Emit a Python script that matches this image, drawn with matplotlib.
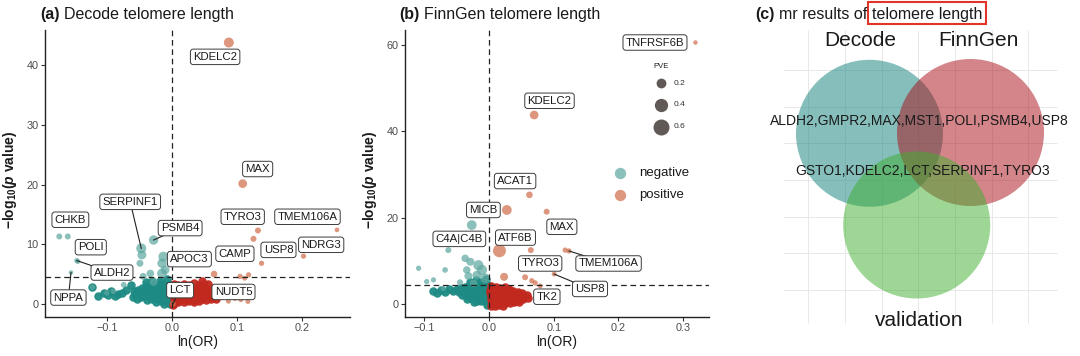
import numpy as np
import matplotlib
matplotlib.use('Agg')
import matplotlib.pyplot as plt
from matplotlib.patches import Circle, Rectangle

plt.rcParams['font.family'] = ['Liberation Sans', 'DejaVu Sans']
plt.rcParams['mathtext.fontset'] = 'custom'
plt.rcParams['mathtext.rm'] = 'Liberation Sans'
plt.rcParams['mathtext.it'] = 'Liberation Sans:italic'
plt.rcParams['mathtext.bf'] = 'Liberation Sans:bold'
plt.rcParams['mathtext.bfit'] = 'Liberation Sans:italic:bold'

W, H, DPI = 1080, 356, 100

# ---------------- data: (a) Decode ----------------
# dense non-significant cloud
a_cloud_neg_x = [-0.122, -0.113, -0.105, -0.098, -0.094, -0.088, -0.083, -0.077, -0.070, -0.063,
                 -0.058, -0.052, -0.046, -0.040, -0.034, -0.028, -0.022, -0.016, -0.010, -0.004,
                 -0.056, -0.050, -0.044, -0.038, -0.032, -0.026, -0.020, -0.014, -0.008, -0.002,
                 -0.048, -0.042, -0.036, -0.030, -0.024, -0.018, -0.012, -0.006, -0.001,
                 -0.038, -0.030, -0.022, -0.015, -0.009, -0.003,
                 -0.024, -0.016, -0.010, -0.005, -0.001,
                 -0.040, -0.030, -0.018, -0.008, -0.003, -0.012, -0.060, -0.054]
a_cloud_neg_y = [2.8, 1.4, 1.8, 1.5, 2.2, 1.3, 1.7, 1.9, 2.3, 3.1,
                 2.2, 2.4, 2.7, 3.0, 2.9, 3.2, 3.0, 3.3, 3.1, 3.4,
                 1.6, 1.8, 2.0, 2.1, 2.3, 2.2, 2.4, 2.5, 2.6, 2.7,
                 1.1, 1.3, 1.4, 1.5, 1.6, 1.7, 1.8, 1.9, 2.0,
                 0.7, 0.8, 0.9, 1.0, 1.1, 1.2,
                 0.3, 0.4, 0.5, 0.4, 0.6,
                 3.6, 3.9, 3.8, 4.1, 0.0, 0.0, 1.2, 0.8]
a_cloud_pos_x = [0.003, 0.010, 0.018, 0.026, 0.034, 0.042, 0.050,
                 0.002, 0.009, 0.016, 0.023, 0.030, 0.037, 0.044, 0.051, 0.057,
                 0.002, 0.009, 0.016, 0.023, 0.030, 0.037, 0.044, 0.051, 0.058, 0.064,
                 0.003, 0.010, 0.017, 0.024, 0.031, 0.038, 0.045, 0.052, 0.059, 0.066,
                 0.004, 0.011, 0.018, 0.025, 0.032, 0.039, 0.046, 0.053, 0.060, 0.068,
                 0.003, 0.010, 0.018, 0.026, 0.034, 0.042,
                 0.046, 0.055, 0.002]
a_cloud_pos_y = [3.3, 3.2, 3.4, 3.1, 3.5, 3.2, 3.3,
                 2.7, 2.6, 2.8, 2.6, 2.7, 2.5, 2.8, 2.6, 2.4,
                 2.0, 2.1, 1.9, 2.0, 2.2, 2.0, 1.9, 2.1, 2.0, 1.8,
                 1.4, 1.5, 1.3, 1.4, 1.5, 1.3, 1.4, 1.5, 1.3, 1.2,
                 0.8, 0.7, 0.9, 0.8, 0.7, 0.9, 0.8, 0.7, 0.8, 0.9,
                 0.2, 0.3, 0.3, 0.4, 0.3, 0.4,
                 3.9, 3.3, -0.2]

# highlighted proteins: gene, ln(OR), -log10(p), PVE
a_neg_gene = ['SERPINF1', '', 'PSMB4', 'APOC3', '', '', '', '', '', '', '', '', '', '',
              'CHKB', '', 'ALDH2', 'POLI', 'NPPA', '']
a_neg_lnor = [-0.047, -0.046, -0.028, -0.013, -0.015, -0.0103, -0.015, -0.049, -0.033, -0.044,
              -0.028, -0.074, -0.090, -0.100, -0.173, -0.160, -0.146, -0.1445, -0.155, -0.122]
a_neg_logp = [9.3, 8.2, 10.7, 7.9, 6.8, 5.7, 5.1, 6.8, 5.1, 4.6,
              3.7, 3.2, 2.1, 1.8, 11.3, 11.3, 7.25, 7.1, 5.25, 2.8]
a_neg_pve = [0.21, 0.16, 0.18, 0.21, 0.18, 0.15, 0.20, 0.08, 0.10, 0.08,
             0.12, 0.04, 0.03, 0.03, 0.05, 0.05, 0.03, 0.02, 0.01, 0.03]

a_pos_gene = ['KDELC2', 'MAX', 'TYRO3', '', 'TMEM106A', 'NDRG3', 'USP8', 'CAMP', '', '', '',
              'NUDT5', '', '', '', 'LCT']
a_pos_lnor = [0.0877, 0.109, 0.1325, 0.1256, 0.254, 0.2025, 0.138, 0.065, 0.118, 0.105, 0.112,
              0.087, 0.097, 0.106, 0.117, 0.0015]
a_pos_logp = [43.8, 20.15, 12.3, 10.9, 12.4, 8.0, 6.8, 5.0, 4.86, 4.6, 4.3,
              0.45, 0.9, 0.7, 0.4, 0.0]
a_pos_pve = [0.21, 0.15, 0.05, 0.05, 0.015, 0.03, 0.03, 0.07, 0.03, 0.03, 0.02,
             0.02, 0.02, 0.02, 0.02, 0.05]

# ---------------- data: (b) FinnGen ----------------
b_cloud_neg_x = [-0.087, -0.080, -0.074, -0.068, -0.062, -0.056,
                 -0.050, -0.044, -0.038, -0.032, -0.026, -0.020, -0.014, -0.008, -0.002,
                 -0.046, -0.040, -0.034, -0.028, -0.022, -0.016, -0.010, -0.004,
                 -0.042, -0.036, -0.030, -0.024, -0.018, -0.012, -0.006, -0.001,
                 -0.034, -0.028, -0.022, -0.016, -0.010, -0.004,
                 -0.024, -0.018, -0.012, -0.006, -0.002,
                 -0.030, -0.020, -0.012, -0.005, -0.003]
b_cloud_neg_y = [3.0, 2.6, 3.2, 2.8, 3.4, 3.0,
                 3.6, 3.8, 4.0, 3.9, 4.2, 4.0, 4.3, 4.1, 4.4,
                 2.8, 3.0, 3.1, 3.2, 3.0, 3.3, 3.2, 3.4,
                 2.0, 2.2, 2.3, 2.1, 2.4, 2.3, 2.5, 2.6,
                 1.2, 1.3, 1.5, 1.4, 1.6, 1.7,
                 0.5, 0.6, 0.7, 0.8, 0.9,
                 5.0, 5.5, 5.2, 5.8, -0.3]
b_cloud_pos_x = [0.003, 0.010, 0.017, 0.024, 0.031,
                 0.002, 0.009, 0.016, 0.023, 0.030, 0.037, 0.044,
                 0.002, 0.009, 0.016, 0.023, 0.030, 0.037, 0.044, 0.051,
                 0.003, 0.010, 0.017, 0.024, 0.031, 0.038, 0.045, 0.052, 0.059,
                 0.003, 0.010, 0.017, 0.024, 0.031, 0.038, 0.045, 0.052, 0.060,
                 0.004, 0.011, 0.018, 0.025, 0.032, 0.039, 0.046,
                 0.003, 0.009, 0.016, 0.022]
b_cloud_pos_y = [4.2, 4.0, 3.8, 3.9, 3.6,
                 3.3, 3.4, 3.2, 3.1, 3.3, 3.0, 2.9,
                 2.5, 2.6, 2.4, 2.5, 2.6, 2.4, 2.3, 2.5,
                 1.7, 1.8, 1.6, 1.7, 1.8, 1.6, 1.7, 1.8, 2.0,
                 0.9, 1.0, 0.8, 0.9, 1.0, 0.8, 0.9, 1.1, 1.3,
                 0.2, 0.1, 0.3, 0.2, 0.3, 0.4, 0.5,
                 -0.5, -0.4, -0.3, -0.4]

b_neg_gene = ['', 'C4A|C4B', '', '', '', '', '', '', '', '', '', '', '', '', '', '', '']
b_neg_lnor = [-0.0268, -0.063, -0.037, -0.029, -0.0166, -0.011, -0.0345, -0.068, -0.109,
              -0.019, -0.006, -0.086, -0.0965, -0.0707, -0.032, -0.045, -0.024]
b_neg_logp = [18.3, 12.5, 10.6, 9.8, 9.0, 7.9, 7.9, 7.9, 8.3,
              6.7, 5.95, 5.6, 5.2, 3.6, 6.5, 5.0, 4.8]
b_neg_pve = [0.20, 0.05, 0.10, 0.12, 0.22, 0.22, 0.10, 0.04, 0.03,
             0.15, 0.20, 0.03, 0.03, 0.03, 0.12, 0.06, 0.10]

b_pos_gene = ['TNFRSF6B', 'KDELC2', 'ACAT1', 'MICB', 'MAX', 'ATF6B', '', 'TMEM106A', '',
              'USP8', 'TYRO3', '', '', '', 'TK2']
b_pos_lnor = [0.319, 0.0697, 0.0624, 0.0274, 0.089, 0.016, 0.0645, 0.1235, 0.1176,
              0.1006, 0.0557, 0.0232, 0.066, 0.0712, 0.079]
b_pos_logp = [60.6, 43.8, 25.3, 21.8, 21.4, 12.35, 12.5, 12.3, 12.5,
              6.95, 6.2, 6.3, 5.4, 4.9, 4.2]
b_pos_pve = [0.01, 0.15, 0.07, 0.20, 0.05, 0.38, 0.05, 0.03, 0.03,
             0.02, 0.05, 0.12, 0.03, 0.03, 0.02]

threshold = 4.5
pve_legend = [0.2, 0.4, 0.6]
direction_legend = ['negative', 'positive']

# ---------------- data: (c) Venn ----------------
venn_sets = ['Decode', 'FinnGen', 'validation']
decode_finngen_only = ['ALDH2', 'GMPR2', 'MAX', 'MST1', 'POLI', 'PSMB4', 'USP8']
all_three = ['GSTO1', 'KDELC2', 'LCT', 'SERPINF1', 'TYRO3']

# ---------------- layout ----------------
a_label_pos = {'KDELC2': (0.0666, 41.4), 'MAX': (0.132, 22.6), 'TYRO3': (0.109, 14.6),
               'TMEM106A': (0.2086, 14.6), 'NDRG3': (0.2297, 9.9), 'USP8': (0.164, 9.05),
               'CAMP': (0.097, 8.4), 'APOC3': (0.027, 7.5), 'LCT': (0.0128, 2.3),
               'NUDT5': (0.0948, 2.0), 'SERPINF1': (-0.064, 17.1), 'PSMB4': (0.0128, 12.7),
               'CHKB': (-0.156, 14.1), 'POLI': (-0.1246, 9.5), 'ALDH2': (-0.092, 5.25),
               'NPPA': (-0.159, 1.06)}
a_segments = ['SERPINF1', 'PSMB4', 'ALDH2', 'NPPA', 'LCT']
b_label_pos = {'TNFRSF6B': (0.2565, 60.6), 'KDELC2': (0.0934, 47.1), 'ACAT1': (0.0402, 28.5),
               'MICB': (-0.0088, 21.8), 'MAX': (0.1125, 17.9), 'C4A|C4B': (-0.046, 15.1),
               'ATF6B': (0.0408, 15.4), 'TYRO3': (0.079, 9.4), 'TMEM106A': (0.1847, 9.4),
               'USP8': (0.156, 3.5), 'TK2': (0.0893, 1.7)}
b_segments = ['TMEM106A', 'USP8']

TEAL_DARK = '#1d8b84'
RED_DARK = '#c2291e'
TEAL = '#5fa8a1'
ORANGE = '#cf6f4d'
TXT = '#1a1a1a'


def pve_size(pve):
    d = np.sqrt(16 + 400 * np.asarray(pve, dtype=float))  # diameter in px
    return (d * 72 / DPI) ** 2


def volcano(ax, cloud_neg, cloud_pos, neg, pos, label_pos, segments, xlim, ylim, xticks, yticks):
    ax.scatter(*cloud_neg, s=pve_size(0.14), c=TEAL_DARK, alpha=0.95, lw=0, zorder=2)
    ax.scatter(*cloud_pos, s=pve_size(0.14), c=RED_DARK, alpha=0.95, lw=0, zorder=2)
    where = {}
    for (genes, xs, ys, pves), col in [(neg, TEAL), (pos, ORANGE)]:
        ax.scatter(xs, ys, s=pve_size(pves), c=col, alpha=0.72, lw=0, zorder=2.5)
        for g, x, y in zip(genes, xs, ys):
            if g:
                where[g] = (x, y)
    ax.axvline(0, color='#222222', lw=0.9, ls=(0, (4.5, 3)), zorder=3)
    ax.axhline(threshold, color='#222222', lw=0.9, ls=(0, (4.5, 3)), zorder=3)
    for g, (lx, ly) in label_pos.items():
        if g in segments:
            px, py = where[g]
            ax.plot([lx, px], [ly, py], color='#222222', lw=0.8, zorder=4)
        ax.text(lx, ly, g, ha='center', va='center', fontsize=8.2, color=TXT, zorder=5,
                bbox=dict(boxstyle='round,pad=0.24,rounding_size=0.25', fc='white',
                          ec='#3a3a3a', lw=0.7))
    ax.set_xlim(*xlim)
    ax.set_ylim(*ylim)
    ax.set_xticks(xticks)
    ax.set_xticklabels([f'{t:.1f}'.replace('-', '\u2212') for t in xticks])
    ax.set_yticks(yticks)
    for s in ['top', 'right']:
        ax.spines[s].set_visible(False)
    for s in ['left', 'bottom']:
        ax.spines[s].set_color('#222222')
        ax.spines[s].set_linewidth(1.0)
    ax.tick_params(length=3, width=0.8, color='#333333', labelsize=7.8,
                   labelcolor='#4d4d4d', pad=1.5)
    ax.set_xlabel('ln(OR)', fontsize=10, color=TXT, labelpad=1.5)
    ax.set_ylabel(r'$\mathbf{-log_{10}(}\mathbfit{p}\mathbf{\ value)}$', fontsize=10,
                  color=TXT, va='center')
    ax.yaxis.set_label_coords(-0.115, 0.48)


fig = plt.figure(figsize=(W / DPI, H / DPI), dpi=DPI)

ax_a = fig.add_axes([45 / W, 1 - 317 / H, 305 / W, 287 / H])
volcano(ax_a, (a_cloud_neg_x, a_cloud_neg_y), (a_cloud_pos_x, a_cloud_pos_y),
        (a_neg_gene, a_neg_lnor, a_neg_logp, a_neg_pve),
        (a_pos_gene, a_pos_lnor, a_pos_logp, a_pos_pve),
        a_label_pos, a_segments, (-0.195, 0.274), (-2.2, 45.9),
        [-0.1, 0.0, 0.1, 0.2], [0, 10, 20, 30, 40])

ax_b = fig.add_axes([405 / W, 1 - 317 / H, 304 / W, 287 / H])
volcano(ax_b, (b_cloud_neg_x, b_cloud_neg_y), (b_cloud_pos_x, b_cloud_pos_y),
        (b_neg_gene, b_neg_lnor, b_neg_logp, b_neg_pve),
        (b_pos_gene, b_pos_lnor, b_pos_logp, b_pos_pve),
        b_label_pos, b_segments, (-0.130, 0.340), (-3.0, 63.5),
        [-0.1, 0.0, 0.1, 0.2, 0.3], [0, 20, 40, 60])

# overlay in pixel coordinates for titles, legends and the Venn diagram
ov = fig.add_axes([0, 0, 1, 1])
ov.set_xlim(0, W)
ov.set_ylim(H, 0)
ov.axis('off')
ov.set_zorder(10)
renderer = fig.canvas.get_renderer()


def title_parts(x, y, parts):
    for txt, weight, boxed in parts:
        t = ov.text(x, y, txt, fontsize=11.5, fontweight=weight, color=TXT,
                    ha='left', va='baseline')
        bb = t.get_window_extent(renderer).transformed(ov.transData.inverted())
        if boxed:
            ov.add_patch(Rectangle((bb.x0 - 4, 1.5), bb.x1 - bb.x0 + 8, 22.5,
                                   fill=False, ec='#e3342a', lw=1.5))
        x = bb.x1 + 4.5


title_parts(40, 19.3, [('(a)', 'bold', False), ('Decode telomere length', 'normal', False)])
title_parts(399, 19.3, [('(b)', 'bold', False), ('FinnGen telomere length', 'normal', False)])
title_parts(755, 19.3, [('(c)', 'bold', False), ('mr results of', 'normal', False),
                        ('telomere length', 'normal', True)])

# PVE legend
ov.text(661.5, 66.7, 'PVE', fontsize=5.5, color=TXT, ha='center', va='center')
for v, yy in zip(pve_legend, [83.3, 105, 126.7]):
    ov.scatter([661], [yy], s=pve_size(v), c='#4a423f', alpha=0.88, lw=0)
    ov.text(674, yy, f'{v:.1f}', fontsize=6, color='#333333', ha='left', va='center')
# direction legend
for lab, col, yy in zip(direction_legend, [TEAL, ORANGE], [173.3, 195]):
    ov.scatter([620], [yy], s=pve_size(0.28), c=col, alpha=0.72, lw=0)
    ov.text(639, yy, lab, fontsize=9.5, color=TXT, ha='left', va='center')

# Venn diagram
grid_x = [808.3, 845, 881.7, 918.3, 955, 991.7, 1028.3]
grid_y = [70, 106.7, 143.3, 180, 216.7, 253.3, 290]
ov.vlines(grid_x, 30, 323, color='#e8e8e8', lw=0.7, zorder=0)
ov.hlines(grid_y, 783, 1057, color='#e8e8e8', lw=0.7, zorder=0)
venn_layout = {'Decode': ((869.5, 133.3), '#0d7f79', (860, 40)),
               'FinnGen': ((970.5, 132.5), '#a90d17', (978, 40)),
               'validation': ((916.7, 225), '#3fae2f', (919, 320))}
for name in venn_sets:
    (cx, cy), col, (tx, ty) = venn_layout[name]
    ov.add_patch(Circle((cx, cy), 73.5, fc=col, ec='none', alpha=0.5, zorder=1))
    ov.text(tx, ty, name, fontsize=15, color=TXT, ha='center', va='center', zorder=3)
ov.text(919.3, 120.7, ','.join(decode_finngen_only), fontsize=10, color=TXT,
        ha='center', va='center', zorder=3)
ov.text(923, 170.7, ','.join(all_three), fontsize=10, color=TXT,
        ha='center', va='center', zorder=3)

fig.savefig('out.png', dpi=DPI)
